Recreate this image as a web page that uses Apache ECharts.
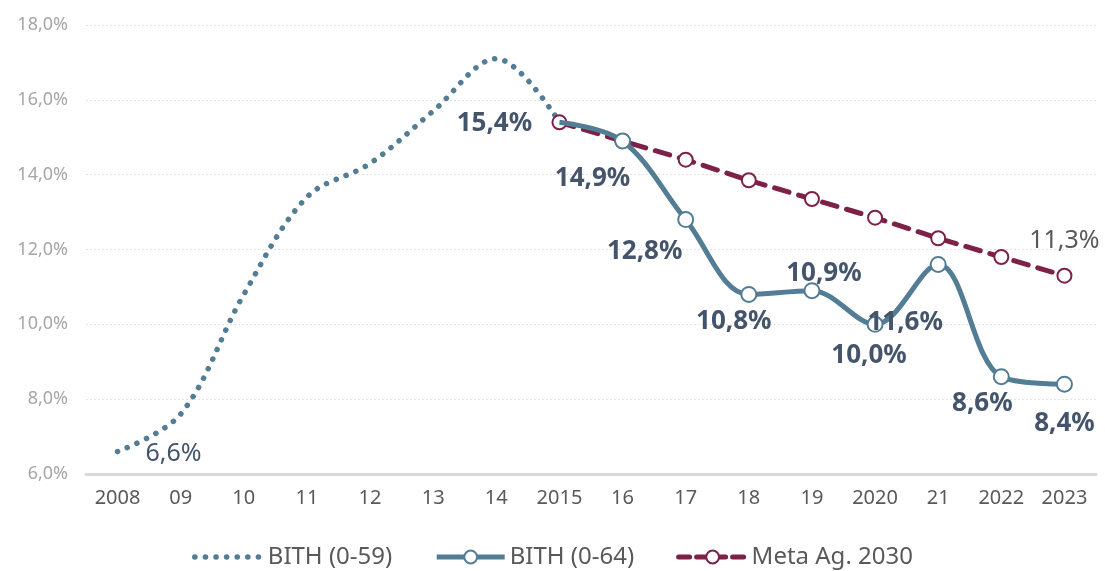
<!DOCTYPE html>
<html>
<head>
<meta charset="utf-8">
<script src="https://cdn.jsdelivr.net/npm/echarts@6/dist/echarts.min.js"></script>
<style>
  html, body { margin: 0; padding: 0; background: #fff; }
  #chart { width: 1105px; height: 571px; }
</style>
</head>
<body>
<div id="chart"></div>
<script>
// categories on the x axis
const years = ['2008', '09', '10', '11', '12', '13', '14', '2015', '16', '17', '18', '19', '2020', '21', '2022', '2023'];

// BITH (0-59), old series, dotted
const bith59 = [6.6, 7.6, 10.8, 13.4, 14.3, 15.7, 17.1, 15.4, null, null, null, null, null, null, null, null];
// BITH (0-64)
const bith64 = [null, null, null, null, null, null, null, 15.4, 14.9, 12.8, 10.8, 10.9, 10.0, 11.6, 8.6, 8.4];
// Meta Ag. 2030
const meta = [null, null, null, null, null, null, null, 15.4, 14.9, 14.4, 13.85, 13.35, 12.85, 12.3, 11.8, 11.3];

// y axis ticks
const yMin = 6, yMax = 18, yStep = 2;

const blue = '#537d94';
const wine = '#7d2148';
const labelDark = '#44546a';
const fontFamily = '"Noto Sans", "Open Sans", sans-serif';

const fmt = v => v.toFixed(1).replace('.', ',') + '%';

// which points carry a label, and where it sits (dx, dy from the point)
const labels59 = { 0: [56, 2] };
const labels64 = { 7: [-65, 1], 8: [-30, 38], 9: [-41, 32], 10: [-15, 27], 11: [12, -17], 12: [-6, 31], 13: [-33, 58], 14: [-19, 27], 15: [0, 39] };
const labelsMeta = { 15: [0, -35] };

const dotted = { color: blue, width: 5.5, type: [0.1, 10.5], cap: 'round' };
const dashed = { color: wine, width: 5, type: [15, 10], cap: 'round' };

function buildData(values, labelMap, labelStyle, hideSymbolAt) {
  return values.map((v, i) => {
    const item = { value: v };
    if (labelMap[i]) {
      item.label = Object.assign({
        show: true,
        position: 'inside',
        offset: labelMap[i],
        formatter: p => fmt(p.value)
      }, labelStyle);
    }
    if (hideSymbolAt && hideSymbolAt.includes(i)) {
      item.itemStyle = { color: 'transparent', borderColor: 'transparent' };
    }
    return item;
  });
}

const chart = echarts.init(document.getElementById('chart'));

chart.setOption({
  animation: false,
  textStyle: { fontFamily },
  grid: { left: 86, right: 9, top: 25, bottom: 97 },
  legend: {
    bottom: -3,
    left: 'center',
    itemWidth: 68,
    itemHeight: 16,
    itemGap: 42,
    textStyle: { color: '#595959', fontSize: 24, fontFamily },
    data: [
      { name: 'BITH (0-59)', lineStyle: dotted, itemStyle: { color: 'transparent', borderColor: 'transparent' } },
      { name: 'BITH (0-64)', lineStyle: { color: blue, width: 5 } },
      { name: 'Meta Ag. 2030', lineStyle: { color: wine, width: 5, type: [11, 7], cap: 'round' } }
    ]
  },
  xAxis: {
    type: 'category',
    data: years,
    boundaryGap: true,
    axisLine: { lineStyle: { color: '#d9d9d9', width: 3 } },
    axisTick: { show: false },
    axisLabel: { color: '#595959', fontSize: 20, margin: 14, interval: 0 }
  },
  yAxis: {
    type: 'value',
    min: yMin,
    max: yMax,
    interval: yStep,
    axisLine: { show: false },
    axisTick: { show: false },
    axisLabel: { color: '#a6a6a6', fontSize: 18, margin: 18, formatter: v => fmt(v) },
    splitLine: { lineStyle: { color: '#e3e3e3', width: 1, type: [2, 2] } }
  },
  series: [
    {
      name: 'BITH (0-59)',
      type: 'line',
      smooth: 0.35,
      symbol: 'circle',
      symbolSize: 2,
      itemStyle: { color: 'transparent', borderColor: 'transparent' },
      lineStyle: dotted,
      data: buildData(bith59, labels59, { color: labelDark, fontSize: 25, fontWeight: 'normal' }),
      z: 2
    },
    {
      name: 'Meta Ag. 2030',
      type: 'line',
      symbol: 'circle',
      symbolSize: 14,
      itemStyle: { color: '#fff', borderColor: wine, borderWidth: 2 },
      lineStyle: dashed,
      data: buildData(meta, labelsMeta, { color: '#595959', fontSize: 25, fontWeight: 'normal' }),
      z: 3
    },
    {
      name: 'BITH (0-64)',
      type: 'line',
      smooth: 0.35,
      symbol: 'circle',
      symbolSize: 15,
      itemStyle: { color: '#fff', borderColor: blue, borderWidth: 2 },
      lineStyle: { color: blue, width: 5 },
      data: buildData(bith64, labels64, { color: labelDark, fontSize: 26, fontWeight: 'bold' }, [7]),
      z: 4
    }
  ]
});
</script>
</body>
</html>
